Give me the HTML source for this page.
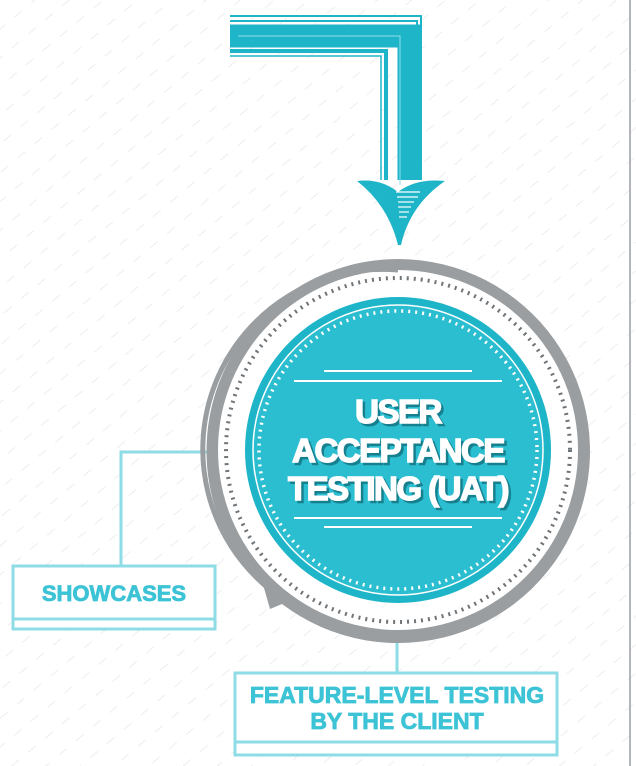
<!DOCTYPE html>
<html><head><style>
html,body{margin:0;padding:0;background:#fff;}
svg{display:block}
text{font-family:"Liberation Sans",sans-serif;font-weight:bold}
</style></head><body>
<svg width="636" height="766" viewBox="0 0 636 766" xmlns="http://www.w3.org/2000/svg">
<defs>
<pattern id="h" width="22" height="22" patternUnits="userSpaceOnUse" patternTransform="rotate(-40)">
<line x1="0" y1="0" x2="10" y2="0" stroke="#e2e2e2" stroke-width="1.5"/>
</pattern>
</defs>
<rect x="0" y="0" width="636" height="766" fill="url(#h)" opacity="0.8"/>
<line x1="630" y1="0" x2="630" y2="766" stroke="#9a9ea1" stroke-width="1.5"/>
<!-- arrow -->
<g fill="none">
<path d="M230 16 H421 V180" stroke="#1fb5c9" stroke-width="2"/>
<path d="M230 21 H417 V180" stroke="#1fb5c9" stroke-width="2"/>
<path d="M230 36 H409 V180" stroke="#1fb5c9" stroke-width="23"/>
<path d="M238 36 H400 V185" stroke="#8fdde6" stroke-width="1"/>
<path d="M230 51 H386 V180" stroke="#1fb5c9" stroke-width="4"/>
<path d="M230 56 H381 V180" stroke="#1fb5c9" stroke-width="1.5"/>
</g>
<path d="M357 181 Q380 178 398 192 Q416 178 445 181 Q410 205 401 245 L398 245 Q388 205 357 181 Z" fill="#1fb5c9"/>
<g stroke="#fff" stroke-width="1.2">
<line x1="396" y1="192" x2="420" y2="192"/><line x1="397" y1="197" x2="418" y2="197"/>
<line x1="398" y1="202" x2="414" y2="202"/><line x1="398" y1="207" x2="411" y2="207"/>
<line x1="399" y1="212" x2="409" y2="212"/><line x1="399" y1="217" x2="407" y2="217"/>
</g>
<!-- connectors -->
<path d="M121 565 V452 H210" fill="none" stroke="#8edde6" stroke-width="3"/>
<line x1="397" y1="638" x2="397" y2="672" stroke="#8edde6" stroke-width="3"/>
<!-- gray ring -->
<path d="M398 259 A192 192 0 1 1 282 604 L270 609 L264 588 A192 192 0 0 1 398 259 Z" fill="#9a9ea1"/>
<circle cx="398" cy="450" r="180" fill="#fff"/>
<path d="M398 270 A180 180 0 0 0 268 588" fill="none" stroke="#9a9ea1" stroke-width="5"/>
<circle cx="398" cy="450" r="172" fill="none" stroke="#6f7478" stroke-width="4" stroke-dasharray="2 5"/>
<!-- teal -->
<circle cx="398" cy="450" r="153" fill="#1fb5c9"/>
<circle cx="398" cy="450" r="145" fill="#2bbdd0" stroke="#fff" stroke-width="1.5"/>
<circle cx="398" cy="450" r="139" fill="none" stroke="#fff" stroke-width="3.5" stroke-dasharray="2 5"/>
<g stroke="#fff" stroke-width="2">
<line x1="324" y1="371" x2="472" y2="371"/><line x1="294" y1="381" x2="502" y2="381"/>
<line x1="294" y1="518" x2="502" y2="518"/><line x1="324" y1="527" x2="472" y2="527"/>
</g>
<g font-size="33" text-anchor="middle" letter-spacing="-1.5" stroke-width="1.5">
<g fill="#17808f" stroke="#17808f" transform="translate(2.5,2.5)">
<text x="398" y="423">USER</text><text x="398" y="462">ACCEPTANCE</text><text x="398" y="500">TESTING (UAT)</text>
</g>
<g fill="#fff" stroke="#fff">
<text x="398" y="423">USER</text><text x="398" y="462">ACCEPTANCE</text><text x="398" y="500">TESTING (UAT)</text>
</g>
</g>
<!-- boxes -->
<g fill="#fff" stroke="#8edde6" stroke-width="3">
<rect x="13" y="566" width="202" height="63"/>
<line x1="13" y1="619" x2="215" y2="619"/>
<rect x="235" y="673" width="322" height="82"/>
<line x1="235" y1="742" x2="557" y2="742"/>
</g>
<g fill="#3cc3d5" stroke="#3cc3d5" stroke-width="0.8" font-size="22" text-anchor="middle">
<text x="114" y="601">SHOWCASES</text>
<text x="397" y="703" font-size="23">FEATURE-LEVEL TESTING</text>
<text x="397" y="729" font-size="23">BY THE CLIENT</text>
</g>
</svg>
</body></html>
